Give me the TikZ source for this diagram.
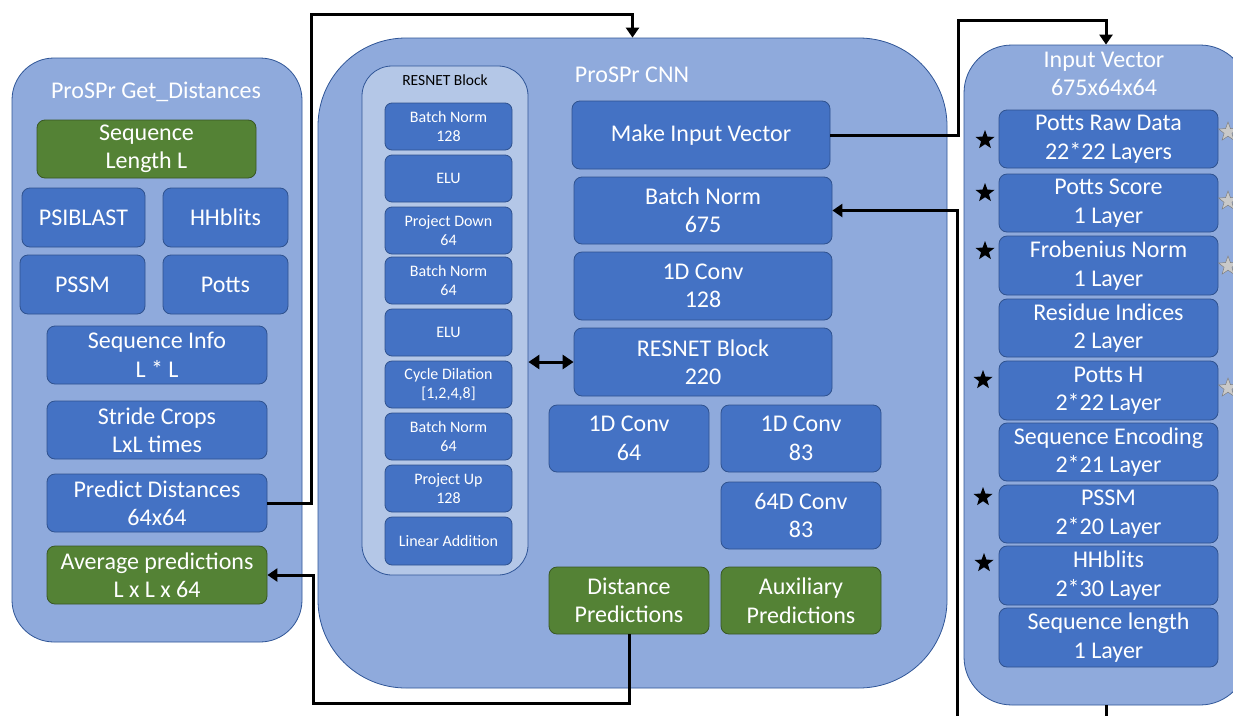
\documentclass[tikz,border=0pt]{standalone}
\usepackage{fontspec}
\setmainfont{Carlito}
\usetikzlibrary{arrows.meta,shapes.geometric}
\definecolor{panelfill}{HTML}{8FAADC}
\definecolor{panelline}{HTML}{2F5597}
\definecolor{boxfill}{HTML}{4472C4}
\definecolor{boxline}{HTML}{2F528F}
\definecolor{greenfill}{HTML}{548235}
\definecolor{greenline}{HTML}{385723}
\definecolor{resfill}{HTML}{B4C7E7}
\definecolor{stargray}{HTML}{C9C9C9}
\newcommand{\bx}[7]{\node[#6, minimum width={#4-#2}, minimum height={#5-#3}] (#1) at ({(#2+#4)/2},{(#3+#5)/2}) {#7};}
\tikzset{
  panel/.style={draw=panelline, fill=panelfill, line width=0.8pt, inner sep=0pt},
  bbox/.style={draw=boxline, fill=boxfill, rounded corners=8pt, text=white, align=center, inner sep=0pt, line width=0.8pt, font=\fontsize{24}{28.5}\selectfont},
  gbox/.style={bbox, draw=greenline, fill=greenfill},
  sbox/.style={bbox, rounded corners=7pt, font=\fontsize{16}{19}\selectfont},
  title/.style={text=white, font=\fontsize{24}{28.5}\selectfont, align=center, inner sep=0pt},
  conn/.style={line width=3pt, -{Triangle[length=10pt,width=13pt]}},
  bstar/.style={star, star points=5, star point ratio=2.4, fill=black, minimum size=20pt, inner sep=0pt},
  gstar/.style={star, star points=5, star point ratio=2.4, fill=stargray, draw=gray, line width=0.5pt, minimum size=20pt, inner sep=0pt}
}
\begin{document}
\begin{tikzpicture}[x=1pt,y=-1pt]
\useasboundingbox (0,0) rectangle (1233,715);
\clip (0,0) rectangle (1233,715);
\fill[white] (0,0) rectangle (1233,715);

% ---------- left panel ----------
\bx{left}{12}{58}{302}{642}{panel, rounded corners=42pt}{}
\node[title] (lefttitle) at (156,92) {ProSPr Get\_Distances};
\bx{seqlen}{37}{120}{256}{178}{gbox}{Sequence\\Length L}
\bx{psiblast}{22}{188}{145}{247}{bbox}{PSIBLAST}
\bx{hhblitsL}{163}{188}{288}{247}{bbox}{HHblits}
\bx{pssmL}{20}{255}{145}{314}{bbox}{PSSM}
\bx{potts}{163}{255}{288}{314}{bbox}{Potts}
\bx{seqinfo}{47}{326}{267}{384}{bbox}{Sequence Info\\L * L}
\bx{stride}{47}{401}{267}{459}{bbox}{Stride Crops\\LxL times}
\bx{pred}{47}{474}{267}{532}{bbox}{Predict Distances\\64x64}
\bx{avg}{47}{546}{267}{604}{gbox}{Average predictions\\L x L x 64}

% ---------- middle panel ----------
\bx{mid}{318}{38}{947}{688}{panel, rounded corners=88pt}{}
\node[title] (midtitle) at (632,75) {ProSPr CNN};
\bx{res}{362}{66}{528}{575}{panel, fill=resfill, rounded corners=30pt}{}
\node[font=\fontsize{15.5}{18}\selectfont, inner sep=0pt] (restitle) at (445,80) {RESNET Block};
\bx{r1}{385}{103}{512}{150}{sbox}{Batch Norm\\128}
\bx{r2}{385}{155}{512}{202}{sbox}{ELU}
\bx{r3}{385}{207}{512}{254}{sbox}{Project Down\\64}
\bx{r4}{385}{257}{512}{304}{sbox}{Batch Norm\\64}
\bx{r5}{385}{309}{512}{356}{sbox}{ELU}
\bx{r6}{385}{361}{512}{408}{sbox}{Cycle Dilation\\{[1,2,4,8]}}
\bx{r7}{385}{413}{512}{460}{sbox}{Batch Norm\\64}
\bx{r8}{385}{465}{512}{512}{sbox}{Project Up\\128}
\bx{r9}{385}{517}{512}{565}{sbox}{Linear Addition}

\bx{miv}{572}{101}{830}{169}{bbox}{Make Input Vector}
\bx{bn}{574}{177}{832}{244}{bbox}{Batch Norm\\675}
\bx{c128}{574}{252}{832}{320}{bbox}{1D Conv\\128}
\bx{resblk}{574}{328}{832}{396}{bbox}{RESNET Block\\220}
\bx{c64}{549}{405}{709}{472}{bbox}{1D Conv\\64}
\bx{c83}{721}{405}{881}{472}{bbox}{1D Conv\\83}
\bx{c6483}{721}{482}{881}{549}{bbox}{64D Conv\\83}
\bx{dp}{549}{567}{709}{634}{gbox}{Distance\\Predictions}
\bx{ap}{721}{567}{881}{634}{gbox}{Auxiliary\\Predictions}

% ---------- right panel ----------
\bx{right}{964}{45}{1248}{705}{panel, rounded corners=48pt}{}
\node[title] (righttitle) at (1104,74) {Input Vector\\675x64x64};
\bx{v1}{999}{110}{1218}{168}{bbox}{Potts Raw Data\\22*22 Layers}
\bx{v2}{999}{174}{1218}{232}{bbox}{Potts Score\\1 Layer}
\bx{v3}{999}{236}{1218}{295}{bbox}{Frobenius Norm\\1 Layer}
\bx{v4}{999}{299}{1218}{357}{bbox}{Residue Indices\\2 Layer}
\bx{v5}{999}{361}{1218}{420}{bbox}{Potts H\\2*22 Layer}
\bx{v6}{999}{423}{1218}{481}{bbox}{Sequence Encoding\\2*21 Layer}
\bx{v7}{999}{485}{1218}{543}{bbox}{PSSM\\2*20 Layer}
\bx{v8}{999}{546}{1218}{605}{bbox}{HHblits\\2*30 Layer}
\bx{v9}{999}{608}{1218}{667}{bbox}{Sequence length\\1 Layer}

% stars
\node[bstar] (bs1) at (985,140) {};
\node[bstar] (bs2) at (985,193) {};
\node[bstar] (bs3) at (985,251) {};
\node[bstar] (bs4) at (983,380) {};
\node[bstar] (bs5) at (983,497) {};
\node[bstar] (bs6) at (984,563) {};
\node[gstar] (gs1) at (1228,132) {};
\node[gstar] (gs2) at (1228,201) {};
\node[gstar] (gs3) at (1228,266) {};
\node[gstar] (gs4) at (1228,388) {};

% ---------- connectors ----------
\coordinate (k1) at (311,14);
\draw[conn] (pred.east) -| (k1) -| (mid.north);
\coordinate (k2) at (958,20);
\draw[conn] (miv.east) -| (k2) -| (right.north);
\coordinate (k3) at (957,730);
\draw[conn] (right.south) |- (k3) |- (bn.east);
\coordinate (k4) at (313,703);
\draw[conn] (dp.south) |- (k4) |- (avg.east);
\draw[line width=3pt, {Triangle[length=11pt,width=14pt]}-{Triangle[length=11pt,width=14pt]}] (res.east |- resblk.west) -- (resblk.west);
\end{tikzpicture}
\end{document}
